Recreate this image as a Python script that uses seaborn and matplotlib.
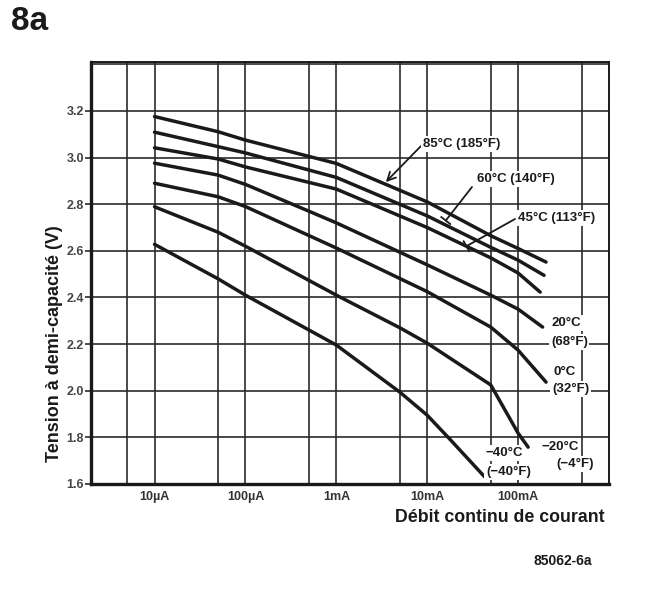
import matplotlib
matplotlib.use("Agg")
import matplotlib.pyplot as plt
from matplotlib.ticker import FixedLocator, NullLocator
import numpy as np
import pandas as pd
import seaborn as sns

# Mid-capacity voltage (V) versus continuous discharge current (A), per temperature
temps = ["85°C", "60°C", "45°C", "20°C", "0°C", "−20°C", "−40°C"]

i_85 = [1e-5, 5e-5, 1e-4, 1e-3, 1e-2, 5e-2, 1e-1, 0.203]
v_85 = [3.176, 3.111, 3.075, 2.975, 2.81, 2.665, 2.61, 2.552]

i_60 = [1e-5, 5e-5, 1e-4, 1e-3, 1e-2, 5e-2, 1e-1, 0.193]
v_60 = [3.109, 3.047, 3.02, 2.915, 2.75, 2.615, 2.56, 2.495]

i_45 = [1e-5, 5e-5, 1e-4, 1e-3, 1e-2, 5e-2, 1e-1, 0.175]
v_45 = [3.042, 2.994, 2.96, 2.865, 2.70, 2.57, 2.505, 2.423]

i_20 = [1e-5, 5e-5, 1e-4, 5e-4, 1e-3, 1e-2, 5e-2, 1e-1, 0.186]
v_20 = [2.976, 2.925, 2.885, 2.77, 2.72, 2.54, 2.41, 2.35, 2.273]

i_0 = [1e-5, 5e-5, 1e-4, 1e-3, 1e-2, 5e-2, 1e-1, 0.203]
v_0 = [2.890, 2.832, 2.79, 2.612, 2.425, 2.273, 2.174, 2.037]

i_m20 = [1e-5, 5e-5, 1e-4, 1e-3, 5e-3, 1e-2, 5e-2, 1e-1, 0.129]
v_m20 = [2.789, 2.68, 2.62, 2.41, 2.27, 2.204, 2.025, 1.818, 1.758]

i_m40 = [1e-5, 5e-5, 1e-4, 1e-3, 5e-3, 1e-2, 1.7e-2, 4.3e-2]
v_m40 = [2.628, 2.48, 2.41, 2.196, 1.994, 1.895, 1.80, 1.63]

currents = [i_85, i_60, i_45, i_20, i_0, i_m20, i_m40]
voltages = [v_85, v_60, v_45, v_20, v_0, v_m20, v_m40]

# Axis ticks
x_grid = [5e-6, 1e-5, 5e-5, 1e-4, 5e-4, 1e-3, 5e-3, 1e-2, 5e-2, 1e-1, 5e-1]
x_labels = {1e-5: "10µA", 1e-4: "100µA", 1e-3: "1mA", 1e-2: "10mA", 1e-1: "100mA"}
y_ticks = [1.6, 1.8, 2.0, 2.2, 2.4, 2.6, 2.8, 3.0, 3.2]
y_grid_extra = [3.4]

rows = []
for t, ii, vv in zip(temps, currents, voltages):
    for k, (i, v) in enumerate(zip(ii, vv)):
        rows.append({"temp": t, "order": k, "I": i, "V": v})
df = pd.DataFrame(rows)

sns.set_theme(style="white")
plt.rcParams["font.family"] = ["Liberation Sans", "DejaVu Sans"]

W, H = 670, 590
fig = plt.figure(figsize=(W / 100, H / 100), dpi=100)
fig.patch.set_facecolor("white")
# axes box in pixel coordinates (left, top, right, bottom)
L, T, R, B = 91, 62, 609, 484
ax = fig.add_axes([L / W, 1 - B / H, (R - L) / W, (B - T) / H])
ax.set_facecolor("white")

INK = "#1a1a1a"
GRID = "#2b2b2b"

ax.set_xscale("log")
ax.set_xlim(2e-6, 1.0)
ax.set_ylim(1.6, 3.41)

for x in x_grid:
    ax.axvline(x, color=GRID, lw=1.2, zorder=1)
for y in y_ticks[1:] + y_grid_extra:
    ax.axhline(y, color=GRID, lw=1.2, zorder=1)

sns.lineplot(data=df, x="I", y="V", hue="temp", units="temp", estimator=None,
             sort=False, palette=[INK] * len(temps), linewidth=2.5,
             legend=False, ax=ax, zorder=4)

ax.xaxis.set_major_locator(FixedLocator(list(x_labels.keys())))
ax.set_xticklabels(list(x_labels.values()))
ax.xaxis.set_minor_locator(NullLocator())
ax.set_yticks(y_ticks)
ax.set_yticklabels([f"{v:.1f}" for v in y_ticks])
ax.yaxis.set_minor_locator(NullLocator())
ax.tick_params(axis="x", length=0, pad=5, labelsize=9, labelcolor="#333333")
ax.tick_params(axis="y", length=4, width=1.2, color=GRID, pad=1,
               labelsize=9, labelcolor="#444444", direction="out", left=True)
for lab in ax.get_xticklabels() + ax.get_yticklabels():
    lab.set_fontweight("bold")
ax.set_xlabel("")
ax.set_ylabel("")

for side, lw in (("left", 2.4), ("bottom", 2.4), ("top", 1.4), ("right", 1.4)):
    ax.spines[side].set_visible(True)
    ax.spines[side].set_color(INK)
    ax.spines[side].set_linewidth(lw)


def fpx(x, y):
    """image pixel (from top-left) -> figure pixels"""
    return (x, H - y)


def label(x, y, s, size=9.5, ha="left"):
    fig.text(x / W, 1 - y / H, s, ha=ha, va="center", fontsize=size,
             fontweight="bold", color=INK, zorder=5,
             bbox=dict(boxstyle="square,pad=0.12", fc="white", ec="none"))


# temperature labels
label(423, 144, "85°C (185°F)")
label(477, 179, "60°C (140°F)")
label(518, 218, "45°C (113°F)")
label(552, 323, "20°C")
label(551, 342, "(68°F)")
label(553, 372, "0°C")
label(552, 389, "(32°F)")
label(541, 447, "−20°C")
label(556, 464, "(−4°F)")
label(485, 453, "−40°C")
label(486, 472, "(−40°F)")

# leader lines to the upper curves
ax.annotate("", xy=(3.5e-3, 2.895), xycoords="data",
            xytext=fpx(421, 146), textcoords="figure pixels",
            arrowprops=dict(arrowstyle="->,head_length=0.5,head_width=0.25",
                            color=INK, lw=1.3, shrinkA=0, shrinkB=0))
ax.annotate("", xy=(1.6e-2, 2.73), xycoords="data",
            xytext=fpx(472, 187), textcoords="figure pixels",
            arrowprops=dict(arrowstyle="-[,widthB=0.35,lengthB=0",
                            color=INK, lw=1.3, shrinkA=0, shrinkB=0))
ax.annotate("", xy=(2.7e-2, 2.62), xycoords="data",
            xytext=fpx(515, 219), textcoords="figure pixels",
            arrowprops=dict(arrowstyle="-[,widthB=0.35,lengthB=0",
                            color=INK, lw=1.3, shrinkA=0, shrinkB=0))

# axis titles and figure captions
fig.text(55 / W, 1 - 344 / H, "Tension à demi-capacité (V)", rotation=90,
         ha="center", va="center", fontsize=13, fontweight="bold", color=INK)
fig.text(605 / W, 1 - 518 / H, "Débit continu de courant", ha="right",
         va="center", fontsize=12.8, fontweight="bold", color=INK)
fig.text(592 / W, 1 - 561 / H, "85062-6a", ha="right", va="center",
         fontsize=10, fontweight="bold", color=INK)
fig.text(11 / W, 1 - 22 / H, "8a", ha="left", va="center",
         fontsize=24, fontweight="bold", color=INK)

fig.savefig("out.png", dpi=100, facecolor="white")
